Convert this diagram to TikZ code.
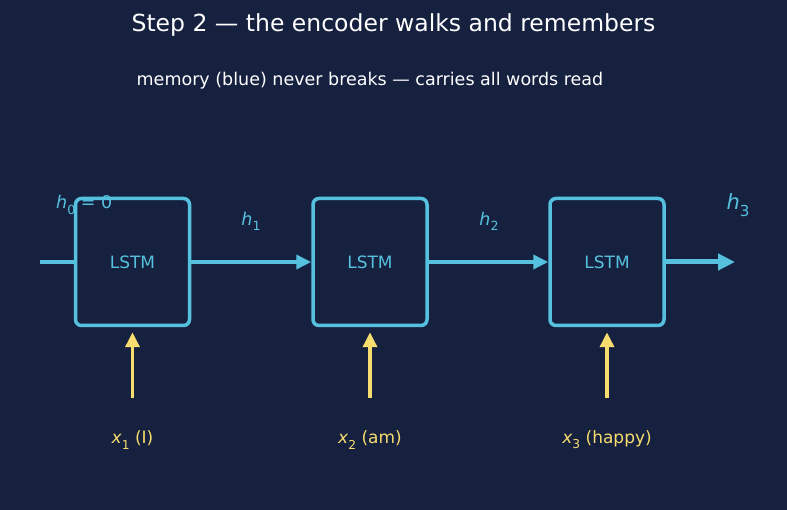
\documentclass[tikz,border=0pt]{standalone}
\usepackage{fontspec}
\setmainfont{DejaVu Sans}
\usetikzlibrary{arrows.meta, positioning}

\definecolor{navy}{RGB}{22,33,64}
\definecolor{memblue}{RGB}{86,193,222}
\definecolor{wordyel}{RGB}{247,220,111}

% italic variable with a small subscript, as in the plot labels
\newcommand{\var}[2]{\textit{#1}\raisebox{-0.3em}{\fontsize{0.72em}{0.72em}\selectfont #2}}
\newcommand{\fsz}[1]{\fontsize{#1}{#1}\selectfont}

\begin{document}
\begin{tikzpicture}[
  x=1pt, y=-1pt,
  lstm/.style={rounded corners=6pt, draw=memblue, line width=3.5pt, fill=navy,
               minimum width=114pt, minimum height=127pt, text=memblue,
               font=\fsz{17pt}, inner sep=0pt},
  mem/.style={draw=memblue, line width=3.5pt,
              -{Triangle[length=15pt, width=14pt]}},
  memout/.style={mem, line width=5pt,
                 -{Triangle[length=17pt, width=16pt]}},
  word/.style={draw=wordyel, line width=3.5pt, shorten >=5pt,
               -{Triangle[length=15pt, width=14pt]}},
  hlab/.style={text=memblue, font=\fsz{17.5pt}, inner sep=0pt},
  wlab/.style={text=wordyel, font=\fsz{17pt}, inner sep=0pt},
]
\fill[navy] (0,0) rectangle (787,510);
\useasboundingbox (0,0) rectangle (787,510);

% ---------- Titles ----------
\node[text=white, font=\fsz{23.5pt}] (title) at (393.5,25)
  {Step 2 — the encoder walks and remembers};
\node[text=white, font=\fsz{17.5pt}] (sub) at (370,81)
  {memory (blue) never breaks — carries all words read};

% ---------- Memory chain ----------
\coordinate (hin)  at (40,262);
\coordinate (hout) at (735,262);
\draw[memblue, line width=3.5pt] (hin) -- (74,262);
\node[lstm] (c1) at (132.5,262) {LSTM};
\node[lstm] (c2) at (370,262)   {LSTM};
\node[lstm] (c3) at (607,262)   {LSTM};
\draw[mem] (c1.east) -- (c2.west);
\draw[mem] (c2.east) -- (c3.west);
\draw[memout] (c3.east) -- (hout);

% hidden state labels
\node[hlab, anchor=west] (h0) at (56,205) {\var{h}{0} = 0};
\node[hlab] (h1) at (251,221) {\var{h}{1}};
\node[hlab] (h2) at (489,221) {\var{h}{2}};
\node[hlab, font=\fsz{21pt}] (h3) at (738,205) {\var{h}{3}};

% ---------- Word inputs ----------
\coordinate (w1) at (132.5,398);
\coordinate (w2) at (370,398);
\coordinate (w3) at (607,398);
\draw[word] (w1) -- (c1.south);
\draw[word] (w2) -- (c2.south);
\draw[word] (w3) -- (c3.south);

\node[wlab] (x1) at (132.5,440) {\var{x}{1} (I)};
\node[wlab] (x2) at (370,440)   {\var{x}{2} (am)};
\node[wlab] (x3) at (607,440)   {\var{x}{3} (happy)};

\end{tikzpicture}
\end{document}
